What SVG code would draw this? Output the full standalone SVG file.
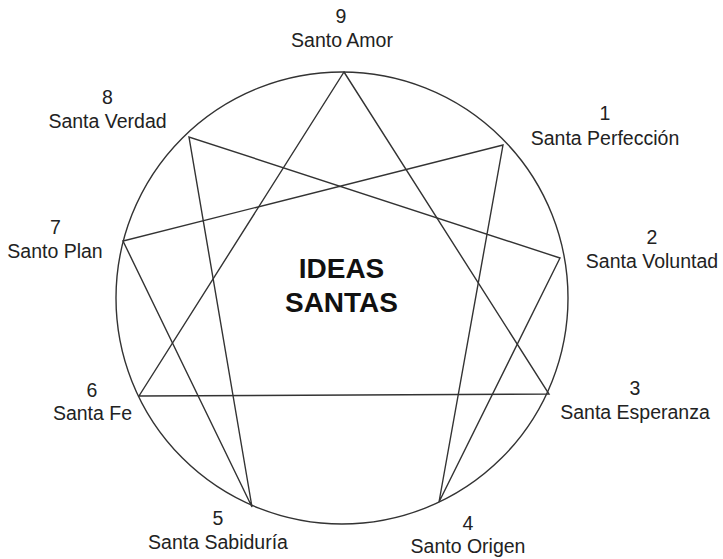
<svg xmlns="http://www.w3.org/2000/svg" width="723" height="559" viewBox="0 0 723 559">
<style>
.ln{fill:none;stroke:#333;stroke-width:1.4}
.t{font-family:"Liberation Sans",Arial,sans-serif;font-size:19.5px;fill:#222;text-anchor:middle}
.b{font-family:"Liberation Sans",Arial,sans-serif;font-size:28px;font-weight:bold;fill:#111;text-anchor:middle}
</style>
<rect width="723" height="559" fill="#fff"/>
<g id="connectors">
<circle class="ln" cx="342" cy="298" r="226"/>
<polygon class="ln" points="344,72 549,394 139,396"/>
<polygon class="ln" points="503,145 439,502 560,258 189,137 252,507 123,241"/>
</g>
<g id="n9"><text class="t" x="341" y="23">9</text><text class="t" x="342" y="47">Santo Amor</text></g>
<g id="n8"><text class="t" x="107.5" y="104">8</text><text class="t" x="107.5" y="128">Santa Verdad</text></g>
<g id="n1"><text class="t" x="605" y="120">1</text><text class="t" x="605" y="145">Santa Perfección</text></g>
<g id="n7"><text class="t" x="55.5" y="234">7</text><text class="t" x="55" y="258">Santo Plan</text></g>
<g id="n2"><text class="t" x="652" y="244">2</text><text class="t" x="652" y="268">Santa Voluntad</text></g>
<g id="n6"><text class="t" x="92" y="397">6</text><text class="t" x="92.5" y="420">Santa Fe</text></g>
<g id="n3"><text class="t" x="635" y="395">3</text><text class="t" x="635" y="419">Santa Esperanza</text></g>
<g id="n5"><text class="t" x="218" y="525">5</text><text class="t" x="218" y="549">Santa Sabiduría</text></g>
<g id="n4"><text class="t" x="468" y="530">4</text><text class="t" x="468" y="553">Santo Origen</text></g>
<g id="center"><text class="b" x="341.5" y="278">IDEAS</text><text class="b" x="341.5" y="312">SANTAS</text></g>
</svg>
